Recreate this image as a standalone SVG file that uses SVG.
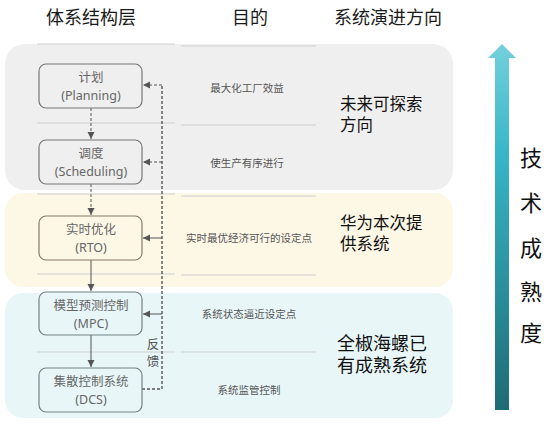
<svg xmlns="http://www.w3.org/2000/svg" width="556" height="428" viewBox="0 0 556 428">
<defs>
<linearGradient id="ag" x1="0" y1="0" x2="0" y2="1">
<stop offset="0" stop-color="#74d0dc"/>
<stop offset="0.3" stop-color="#38b6c8"/>
<stop offset="1" stop-color="#1e6b74"/>
</linearGradient>
<marker id="ah" markerWidth="8" markerHeight="8" refX="7" refY="4" orient="auto" markerUnits="userSpaceOnUse">
<path d="M0,0.5 L7,4 L0,7.5 Z" fill="#555"/>
</marker>
<style>
text{font-family:"Noto Sans","Noto Sans CJK SC",sans-serif;}
.h{font-size:18px;fill:#1a1a1a;text-anchor:middle;}
.n{font-size:12.5px;fill:#666;text-anchor:middle;}
.p{font-size:10.5px;fill:#555;text-anchor:middle;}
.e{font-size:16.5px;fill:#111;}
.t{font-size:22px;fill:#111;text-anchor:middle;}
.sep{stroke:#cfcfcf;stroke-width:1;}
.node{stroke:#777;stroke-width:1.2;}
.d{stroke:#555;stroke-width:1;fill:none;stroke-dasharray:3,2;}
.s{stroke:#555;stroke-width:1;fill:none;}
</style>
</defs>
<rect width="556" height="428" fill="#fff"/>
<g id="bands">
<rect x="5" y="44" width="448" height="146" rx="20" fill="#efefef"/>
<rect x="5" y="193" width="448" height="94" rx="18" fill="#fdf7e6"/>
<rect x="5" y="293" width="448" height="125" rx="18" fill="#e8f6f8"/>
</g>
<g id="separators">
<line class="sep" x1="37" y1="44" x2="175" y2="44"/>
<line class="sep" x1="181" y1="46" x2="316" y2="46"/>
<line class="sep" x1="37" y1="123" x2="175" y2="123"/>
<line class="sep" x1="181" y1="125" x2="316" y2="125"/>
<line class="sep" x1="37" y1="194" x2="175" y2="194"/>
<line class="sep" x1="181" y1="196" x2="316" y2="196"/>
<line class="sep" x1="37" y1="274" x2="175" y2="274"/>
<line class="sep" x1="181" y1="275" x2="316" y2="275"/>
<line class="sep" x1="37" y1="352" x2="175" y2="352"/>
<line class="sep" x1="181" y1="352" x2="316" y2="352"/>
</g>
<g id="headers">
<text class="h" x="91" y="24">体系结构层</text>
<text class="h" x="250" y="24">目的</text>
<text class="h" x="388" y="24">系统演进方向</text>
</g>
<g id="connectors">
<line class="d" x1="91" y1="108" x2="91" y2="139" marker-end="url(#ah)"/>
<line class="d" x1="91" y1="184" x2="91" y2="215" marker-end="url(#ah)"/>
<line class="s" x1="91" y1="260" x2="91" y2="291" marker-end="url(#ah)"/>
<line class="s" x1="91" y1="335" x2="91" y2="367" marker-end="url(#ah)"/>
<path class="d" d="M142,389 H162 V85" style="stroke-width:1.4"/>
<line class="d" x1="162" y1="85" x2="143" y2="85" marker-end="url(#ah)"/>
<line class="d" x1="162" y1="162" x2="143" y2="162" marker-end="url(#ah)"/>
<line class="s" x1="162" y1="238" x2="143" y2="238" marker-end="url(#ah)"/>
<line class="s" x1="162" y1="314" x2="143" y2="314" marker-end="url(#ah)"/>
<text x="153" y="349" style="font-size:12.5px;fill:#555;text-anchor:middle">反</text>
<text x="153" y="366" style="font-size:12.5px;fill:#555;text-anchor:middle">馈</text>
</g>
<g id="planning">
<rect class="node" x="39" y="64" width="103" height="44" rx="7" fill="#efefef"/>
<text class="n" x="91" y="82">计划</text>
<text class="n" x="91" y="100">(Planning)</text>
</g>
<g id="scheduling">
<rect class="node" x="39" y="140" width="103" height="44" rx="7" fill="#efefef"/>
<text class="n" x="91" y="158">调度</text>
<text class="n" x="91" y="176">(Scheduling)</text>
</g>
<g id="rto">
<rect class="node" x="39" y="216" width="103" height="44" rx="7" fill="#fdf7e6" style="stroke:#857a65"/>
<text class="n" x="91" y="234">实时优化</text>
<text class="n" x="91" y="252">(RTO)</text>
</g>
<g id="mpc">
<rect class="node" x="39" y="292" width="103" height="43" rx="7" fill="#e8f6f8" style="stroke:#738384"/>
<text class="n" x="91" y="310">模型预测控制</text>
<text class="n" x="91" y="328">(MPC)</text>
</g>
<g id="dcs">
<rect class="node" x="39" y="368" width="103" height="44" rx="7" fill="#e8f6f8" style="stroke:#738384"/>
<text class="n" x="91" y="386">集散控制系统</text>
<text class="n" x="91" y="404">(DCS)</text>
</g>
<g id="purposes">
<text class="p" x="247" y="92">最大化工厂效益</text>
<text class="p" x="247" y="167">使生产有序进行</text>
<text class="p" x="249" y="242">实时最优经济可行的设定点</text>
<text class="p" x="249" y="318">系统状态逼近设定点</text>
<text class="p" x="249" y="394">系统监管控制</text>
</g>
<g id="evolution">
<text class="e" x="340" y="110">未来可探索</text>
<text class="e" x="340" y="131">方向</text>
<text class="e" x="340" y="229">华为本次提</text>
<text class="e" x="340" y="250">供系统</text>
<text class="e" x="337" y="350" style="font-size:18px">全椒海螺已</text>
<text class="e" x="337" y="372" style="font-size:18px">有成熟系统</text>
</g>
<g id="maturity-arrow">
<path d="M495,58 H488 L502,44 L516,58 H509 V410 H495 Z" fill="url(#ag)"/>
<text class="t" x="531" y="166">技</text>
<text class="t" x="531" y="211">术</text>
<text class="t" x="531" y="256">成</text>
<text class="t" x="531" y="300">熟</text>
<text class="t" x="531" y="341">度</text>
</g>
</svg>
